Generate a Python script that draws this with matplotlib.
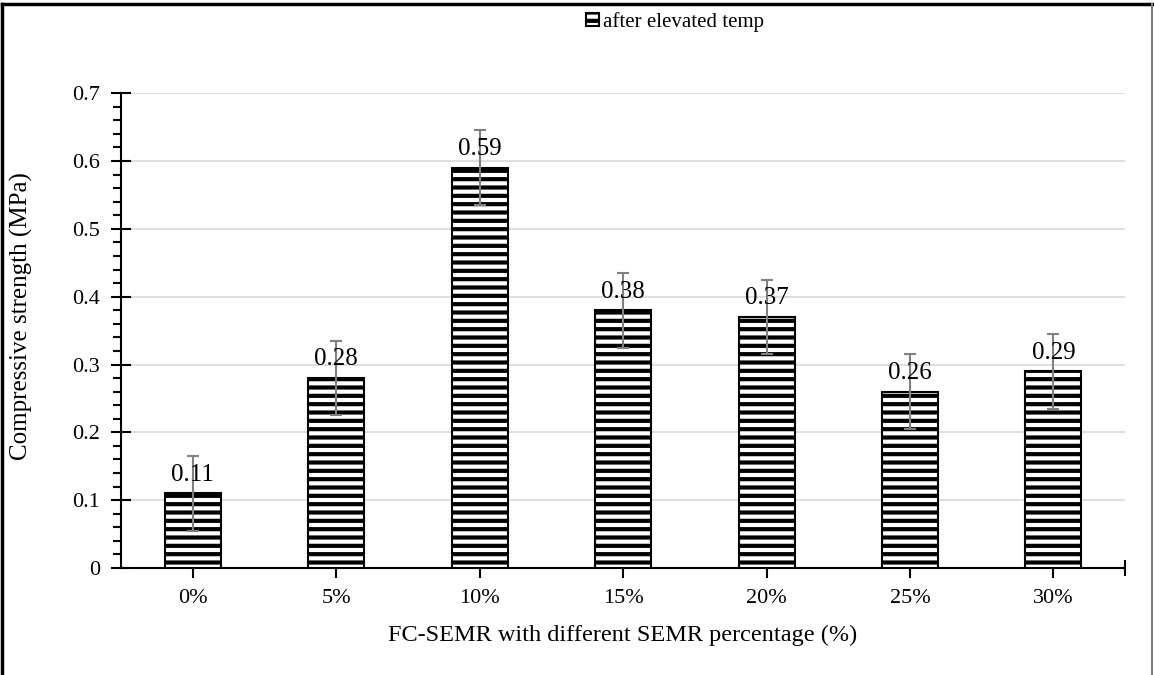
import matplotlib
matplotlib.use("Agg")
import matplotlib.pyplot as plt
from matplotlib.lines import Line2D
from matplotlib.ticker import MultipleLocator, FuncFormatter
import numpy as np

categories = ["0%", "5%", "10%", "15%", "20%", "25%", "30%"]
values = [0.11, 0.28, 0.59, 0.38, 0.37, 0.26, 0.29]
errors = [0.055, 0.055, 0.055, 0.055, 0.055, 0.055, 0.055]
labels = ["0.11", "0.28", "0.59", "0.38", "0.37", "0.26", "0.29"]
series_name = "after elevated temp"

plt.rcParams['font.family'] = ['Liberation Serif', 'DejaVu Serif']
plt.rcParams['hatch.linewidth'] = 3.0
plt.rcParams['hatch.color'] = 'black'

fig = plt.figure(figsize=(11.54, 6.75), dpi=100)
ax = fig.add_axes([0.1049, 0.1585, 0.975 - 0.1049, 0.862 - 0.1585])

x = np.arange(len(categories))
bars = ax.bar(x, values, width=0.39, color='white', edgecolor='black',
              linewidth=1.5, hatch='--', label=series_name, zorder=3)
ax.errorbar(x, values, yerr=errors, fmt='none', ecolor='#808080',
            elinewidth=1.5, capsize=4, capthick=1.5, zorder=4)
for xi, v, lab in zip(x, values, labels):
    ax.annotate(lab, (xi, v), xytext=(0, 5.5), textcoords='offset points',
                ha='center', va='bottom', fontsize=18, zorder=5)

ax.set_xlim(-0.5, 6.5)
ax.set_ylim(0, 0.7)
ax.set_xticks(x)
ax.set_xticklabels(categories, fontsize=16)
ax.yaxis.set_major_locator(MultipleLocator(0.1))
ax.yaxis.set_minor_locator(MultipleLocator(0.02))
ax.yaxis.set_major_formatter(FuncFormatter(lambda v, p: "0" if abs(v) < 1e-9 else f"{v:.1f}"))
ax.tick_params(axis='y', which='major', direction='inout', length=14, width=1.5, pad=8, labelsize=16)
ax.tick_params(axis='y', which='minor', direction='out', length=6, width=1.5)
ax.tick_params(axis='x', which='major', direction='out', length=7, width=1.5, pad=8, labelsize=16)
ax.grid(axis='y', color='#d9d9d9', linewidth=1.2, zorder=0)
ax.set_axisbelow(True)
for s in ['top', 'right']:
    ax.spines[s].set_visible(False)
ax.spines['left'].set_linewidth(1.5)
ax.spines['bottom'].set_linewidth(1.5)
# end tick at right of x axis
ax.plot([6.5, 6.5], [-0.011, 0.011], color='black', lw=1.5, clip_on=False)

ax.set_ylabel("Compressive strength (MPa)", fontsize=18, labelpad=12)
ax.yaxis.set_label_coords(-0.088, 0.53)
ax.set_xlabel("FC-SEMR with different SEMR percentage (%)", fontsize=17.5, labelpad=12)

leg = fig.legend(handles=[bars], labels=[series_name], loc='center',
                 bbox_to_anchor=(0.585, 0.967), frameon=False, fontsize=15,
                 handlelength=0.6, handleheight=0.6, handletextpad=0.2)

# figure border
fig.add_artist(Line2D([0.002, 0.002], [0, 0.994], color='black', lw=2.5, transform=fig.transFigure))
fig.add_artist(Line2D([0.002, 0.999], [0.994, 0.994], color='black', lw=2.5, transform=fig.transFigure))
fig.add_artist(Line2D([0.998, 0.998], [0, 0.994], color='#808080', lw=1.5, transform=fig.transFigure))

fig.savefig("out.png", dpi=100)
